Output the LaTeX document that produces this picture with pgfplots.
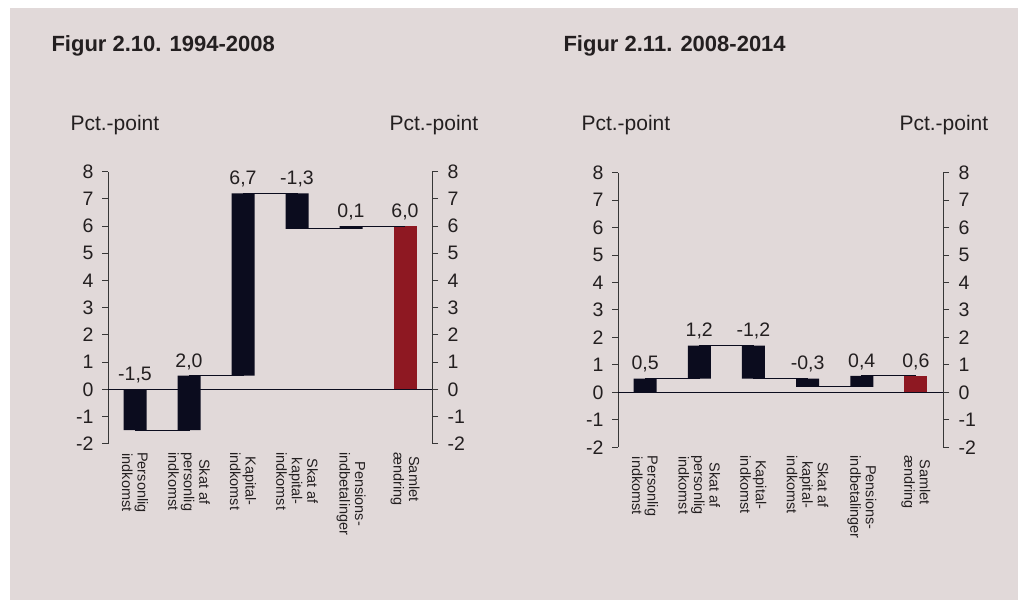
\documentclass[border=0pt]{standalone}
\usepackage{fontspec}
\setmainfont{Liberation Sans}
\usepackage{pgfplots}
\pgfplotsset{compat=1.18}
\usepackage{pgfplotstable}
\definecolor{bg}{RGB}{225,217,217}
\definecolor{navy}{RGB}{11,12,30}
\definecolor{barred}{RGB}{142,24,34}
\definecolor{axisgray}{RGB}{55,55,55}
\definecolor{textcol}{RGB}{35,31,32}

\pgfplotstableread{
x base delta tot top lab conn
0 0 -1.5 0 0 -1,5 -1.5
1 -1.5 2.0 0 0.5 2,0 0.5
2 0.5 6.7 0 7.2 6,7 7.2
3 7.2 -1.3 0 7.2 -1,3 5.9
4 5.9 0.1 0 6.0 0,1 6.0
5 0 0 6.0 6.0 6,0 6.0
}\dataA

\pgfplotstableread{
x base delta tot top lab conn
0 0 0.5 0 0.5 0,5 0.5
1 0.5 1.2 0 1.7 1,2 1.7
2 1.7 -1.2 0 1.7 -1,2 0.5
3 0.5 -0.3 0 0.5 -0,3 0.2
4 0.2 0.4 0 0.6 0,4 0.6
5 0 0 0.6 0.6 0,6 0.6
}\dataB

\pgfplotsset{
  wfbase/.style={
    scale only axis,
    xmin=-0.5, xmax=5.5, ymin=-2, ymax=8,
    ytick={-2,-1,0,1,2,3,4,5,6,7,8},
    tick align=outside,
    major tick length=6pt,
    axis line style={axisgray, line width=0.9pt},
    tick style={axisgray, line width=0.9pt},
    /pgf/number format/assume math mode=true,
    yticklabel style={font=\fontsize{19.5}{19.5}\selectfont, text=textcol},
  },
  wfbars/.style={
    wfbase,
    axis y line*=left,
    axis x line*=bottom,
    x axis line style={draw=none},
    yticklabel style={xshift=-5pt},
    xtick={0,1,2,3,4,5},
    xtick style={draw=none},
    xticklabels={{Personlig\\indkomst},{Skat af\\personlig\\indkomst},{Kapital-\\indkomst},{Skat af\\kapital-\\indkomst},{Pensions-\\indbetalinger},{Samlet\\ændring}},
    xticklabel style={rotate=-90, anchor=west, align=center, text=textcol,
      font=\fontsize{14.5}{15.5}\selectfont, xshift=-1pt},
    ybar stacked, stack negative=on previous, bar width=23pt,
  },
  wfover/.style={
    wfbase,
    axis y line*=right,
    axis x line=none,
    yticklabel style={xshift=6pt},
    extra y ticks={0},
    extra y tick labels={},
    extra y tick style={grid=major, major grid style={navy, line width=0.9pt}},
  },
}

\begin{document}
\begin{tikzpicture}
\useasboundingbox (0,0) rectangle (1019pt,600pt);
\fill[white] (0,0) rectangle (1019pt,600pt);
\fill[bg] (10pt,0) rectangle (1018pt,592pt);

\node[anchor=base west, font=\bfseries\fontsize{22}{22}\selectfont, text=textcol] at (48pt,548pt) {Figur 2.10. 1994-2008};
\node[anchor=base west, font=\bfseries\fontsize{22}{22}\selectfont, text=textcol] at (560pt,548pt) {Figur 2.11. 2008-2014};
\node[anchor=base west, font=\fontsize{21}{21}\selectfont, text=textcol] at (67pt,469pt) {Pct.-point};
\node[anchor=base west, font=\fontsize{21}{21}\selectfont, text=textcol] at (386pt,469pt) {Pct.-point};
\node[anchor=base west, font=\fontsize{21}{21}\selectfont, text=textcol] at (578pt,469pt) {Pct.-point};
\node[anchor=base west, font=\fontsize{21}{21}\selectfont, text=textcol] at (896pt,469pt) {Pct.-point};

% ---------- Left chart ----------
\begin{axis}[wfbars, at={(108pt,156.3pt)}, anchor=south west, width=324pt, height=272pt]
  \addplot[draw=none, fill=none] table[x=x, y=base] {\dataA};
  \addplot[draw=none, fill=navy] table[x=x, y=delta] {\dataA};
  \addplot[draw=none, fill=barred] table[x=x, y=tot] {\dataA};
\end{axis}
\begin{axis}[wfover, at={(108pt,156.3pt)}, anchor=south west, width=324pt, height=272pt]
  \addplot[const plot, mark=none, navy, line width=1pt] table[x=x, y=conn] {\dataA};
  \addplot[only marks, mark=*, mark options={draw=none, fill=none}, mark size=0pt,
    nodes near coords, point meta=explicit symbolic,
    every node near coord/.append style={anchor=south, inner sep=6pt, text=textcol,
      font=\fontsize{19.5}{19.5}\selectfont}]
    table[x=x, y=top, meta=lab] {\dataA};
\end{axis}

% ---------- Right chart ----------
\begin{axis}[wfbars, at={(618pt,152.8pt)}, anchor=south west, width=325pt, height=274.5pt]
  \addplot[draw=none, fill=none] table[x=x, y=base] {\dataB};
  \addplot[draw=none, fill=navy] table[x=x, y=delta] {\dataB};
  \addplot[draw=none, fill=barred] table[x=x, y=tot] {\dataB};
\end{axis}
\begin{axis}[wfover, at={(618pt,152.8pt)}, anchor=south west, width=325pt, height=274.5pt]
  \addplot[const plot, mark=none, navy, line width=1pt] table[x=x, y=conn] {\dataB};
  \addplot[only marks, mark=*, mark options={draw=none, fill=none}, mark size=0pt,
    nodes near coords, point meta=explicit symbolic,
    every node near coord/.append style={anchor=south, inner sep=6pt, text=textcol,
      font=\fontsize{19.5}{19.5}\selectfont}]
    table[x=x, y=top, meta=lab] {\dataB};
\end{axis}
\end{tikzpicture}
\end{document}
